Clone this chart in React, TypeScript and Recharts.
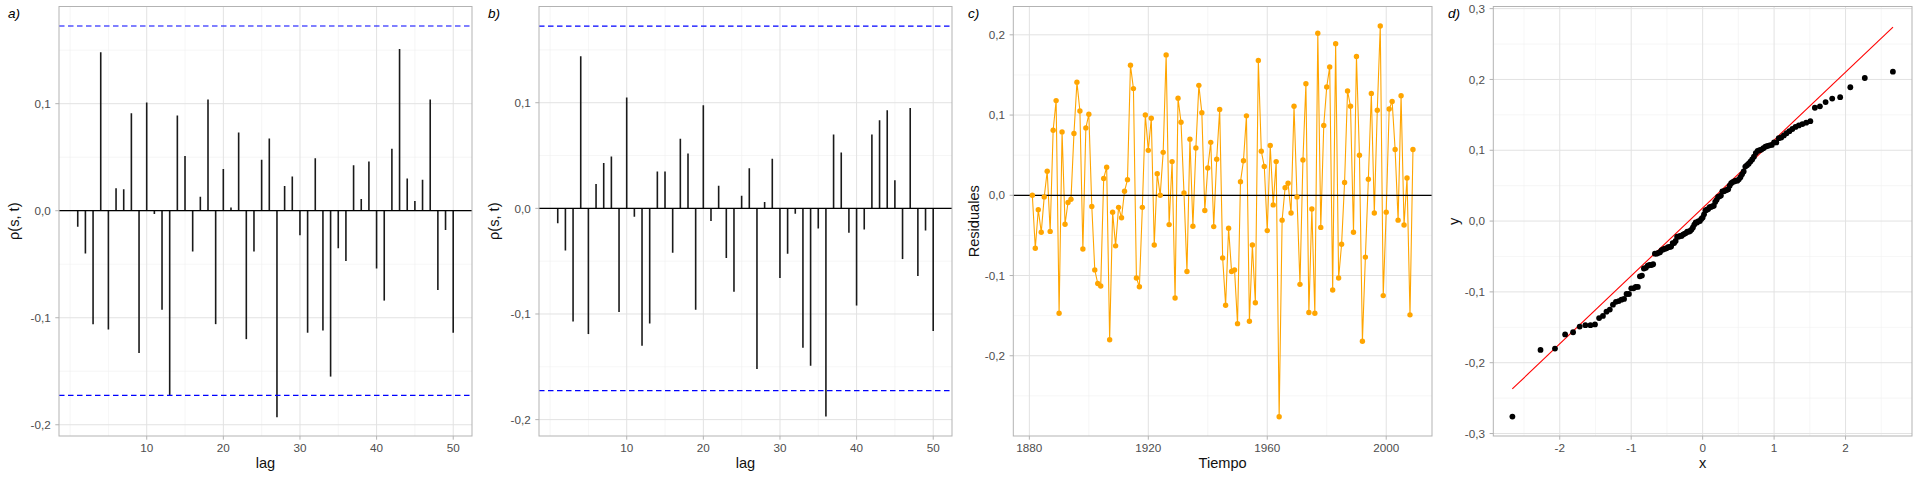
import React from "react";
import {
  ComposedChart,
  Bar,
  Line,
  Scatter,
  XAxis,
  YAxis,
  CartesianGrid,
  ReferenceLine,
} from "recharts";

// lags 1..50
const lags = Array.from({ length: 50 }, (_, i) => i + 1);

// a) autocorrelation of the residuals
const acfA = [
  -0.015, -0.04, -0.106, 0.148, -0.111, 0.021, 0.02, 0.091, -0.133, 0.101,
  -0.003, -0.0925, -0.173, 0.089, 0.051, -0.038, 0.013, 0.104, -0.106, 0.039,
  0.003, 0.073, -0.12, -0.038, 0.0475, 0.0675, -0.193, 0.023, 0.032, -0.023,
  -0.114, 0.049, -0.112, -0.155, -0.035, -0.047, 0.0425, 0.011, 0.046, -0.054,
  -0.084, 0.058, 0.151, 0.03, 0.009, 0.029, 0.104, -0.074, -0.018, -0.114,
];

// b) partial autocorrelation
const acfB = [
  -0.014, -0.04, -0.107, 0.144, -0.119, 0.023, 0.043, 0.049, -0.098, 0.105,
  -0.008, -0.13, -0.109, 0.035, 0.035, -0.042, 0.066, 0.052, -0.096, 0.0975,
  -0.012, 0.0215, -0.047, -0.079, 0.012, 0.038, -0.152, 0.006, 0.047, -0.066,
  -0.043, -0.005, -0.132, -0.149, -0.019, -0.197, 0.07, 0.053, -0.023, -0.092,
  -0.02, 0.07, 0.0835, 0.093, 0.0265, -0.048, 0.095, -0.064, -0.021, -0.116,
];

const confBand = 0.1726;

// c) residuals 1881..2009
const years = Array.from({ length: 129 }, (_, i) => 1881 + i);
const residuals = [
  0.0, -0.066, -0.018, -0.046, -0.002, 0.03, -0.045, 0.081, 0.118, -0.147,
  0.079, -0.036, -0.009, -0.005, 0.077, 0.141, 0.105, -0.067, 0.084, 0.101,
  -0.014, -0.093, -0.11, -0.113, 0.021, 0.035, -0.18, -0.021, -0.063, -0.015,
  -0.028, 0.005, 0.0195, 0.162, 0.133, -0.103, -0.114, -0.015, 0.1, 0.056,
  0.096, -0.062, 0.027, 0.0, 0.0535, 0.175, -0.0365, 0.042, -0.128, 0.121,
  0.091, 0.003, -0.095, 0.07, -0.0385, 0.059, 0.137, 0.103, -0.019, 0.034,
  0.066, -0.039, 0.045, 0.107, -0.078, -0.137, -0.041, -0.095, -0.093, -0.16,
  0.017, 0.043, 0.099, -0.157, -0.062, -0.134, 0.168, 0.055, 0.036, -0.044,
  0.062, -0.012, 0.042, -0.276, -0.031, 0.0095, 0.015, -0.022, 0.111, -0.002,
  -0.111, 0.044, 0.139, -0.146, -0.017, -0.147, 0.202, -0.04, 0.087, 0.135,
  0.16, -0.118, 0.189, -0.103, -0.061, 0.016, 0.13, 0.111, -0.046, 0.173,
  0.05, -0.182, -0.077, 0.02, 0.127, -0.022, 0.106, 0.211, -0.125, -0.021,
  0.1075, 0.117, 0.057, -0.031, 0.124, -0.037, 0.0215, -0.149, 0.057,
];

// d) reference line of the qq plot (read from the picture)
const qqLineX = [-2.664, 2.664];
const qqLineY = [-0.237, 0.274];

// ticks and grid
const lagTicks = [10, 20, 30, 40, 50];
const lagMinor = [0, 5, 15, 25, 35, 45];
const acfTicks = [-0.2, -0.1, 0, 0.1];
const acfMinor = [-0.15, -0.05, 0.05, 0.15];
const yearTicks = [1880, 1920, 1960, 2000];
const yearMinor = [1900, 1940, 1980];
const resTicks = [-0.2, -0.1, 0, 0.1, 0.2];
const resMinor = [-0.25, -0.15, -0.05, 0.05, 0.15];
const qxTicks = [-2, -1, 0, 1, 2];
const qxMinor = [-2.5, -1.5, -0.5, 0.5, 1.5, 2.5];
const qyTicks = [-0.3, -0.2, -0.1, 0, 0.1, 0.2, 0.3];
const qyMinor = [-0.25, -0.15, -0.05, 0.05, 0.15, 0.25];

// inverse normal cdf (Acklam)
function qnorm(p: number) {
  const a = [-39.69683028665376, 220.9460984245205, -275.9285104469687, 138.357751867269, -30.66479806614716, 2.506628277459239];
  const b = [-54.47609879822406, 161.5858368580409, -155.6989798598866, 66.80131188771972, -13.28068155288572];
  const c = [-0.007784894002430293, -0.3223964580411365, -2.400758277161838, -2.549671534231630, 4.374664141464968, 2.938163982698783];
  const d = [0.007784695709041462, 0.3224671290700398, 2.445134137142996, 3.754408661907416];
  const lo = 0.02425;
  if (p < lo) {
    const q = Math.sqrt(-2 * Math.log(p));
    return (((((c[0] * q + c[1]) * q + c[2]) * q + c[3]) * q + c[4]) * q + c[5]) / ((((d[0] * q + d[1]) * q + d[2]) * q + d[3]) * q + 1);
  }
  if (p <= 1 - lo) {
    const q = p - 0.5;
    const r = q * q;
    return ((((((a[0] * r + a[1]) * r + a[2]) * r + a[3]) * r + a[4]) * r + a[5]) * q) / (((((b[0] * r + b[1]) * r + b[2]) * r + b[3]) * r + b[4]) * r + 1);
  }
  const q = Math.sqrt(-2 * Math.log(1 - p));
  return -(((((c[0] * q + c[1]) * q + c[2]) * q + c[3]) * q + c[4]) * q + c[5]) / ((((d[0] * q + d[1]) * q + d[2]) * q + d[3]) * q + 1);
}

const acfDataA = lags.map((lag, i) => ({ lag, acf: acfA[i] }));
const acfDataB = lags.map((lag, i) => ({ lag, acf: acfB[i] }));
const residData = years.map((year, i) => ({ year, res: residuals[i] }));
const sortedRes = [...residuals].sort((p, q) => p - q);
const qqData = sortedRes.map((y, i) => ({ x: qnorm((i + 0.5) / sortedRes.length), y }));
const qqLineData = qqLineX.map((x, i) => ({ x, y: qqLineY[i] }));

const FONT = '"Liberation Sans", Arial, Helvetica, sans-serif';
const W = 480;
const H = 480;
const TOP = 6.5;
const RIGHT = 472;
const BOTTOM = 436;
const XAXIS_H = 20;

const comma = (v: number) => v.toFixed(1).replace(".", ",");
const tickStyle = { fill: "#4d4d4d", fontSize: 11.7, fontFamily: FONT };

const hGen = (vals: number[], dom: number[]) => (p: any) =>
  vals.map((v) => p.offset.top + ((dom[1] - v) / (dom[1] - dom[0])) * p.offset.height);
const vGen = (vals: number[], dom: number[]) => (p: any) =>
  vals.map((v) => p.offset.left + ((v - dom[0]) / (dom[1] - dom[0])) * p.offset.width);

function grids(xMinor: number[], xMajor: number[], xDom: number[], yMinor: number[], yMajor: number[], yDom: number[]) {
  return [
    <CartesianGrid
      key="minor"
      stroke="#f0f0f0"
      strokeWidth={0.6}
      horizontalCoordinatesGenerator={hGen(yMinor, yDom)}
      verticalCoordinatesGenerator={vGen(xMinor, xDom)}
    />,
    <CartesianGrid
      key="major"
      stroke="#e2e2e2"
      strokeWidth={1}
      horizontalCoordinatesGenerator={hGen(yMajor, yDom)}
      verticalCoordinatesGenerator={vGen(xMajor, xDom)}
    />,
  ];
}

function Frame({ left, tag, xTitle, yTitle, children }: any) {
  return (
    <div style={{ position: "relative", width: W, height: H }}>
      {children}
      <svg width={W} height={H} style={{ position: "absolute", left: 0, top: 0, pointerEvents: "none" }}>
        <rect x={left} y={TOP} width={RIGHT - left} height={BOTTOM - TOP} fill="none" stroke="#b3b3b3" strokeWidth={1} />
        <text x={8} y={17.5} fontSize={13.5} fontStyle="italic" fontFamily={FONT} fill="#000">
          {tag}
        </text>
        <text
          x={(left + RIGHT) / 2}
          y={468}
          fontSize={14.6}
          fontFamily={FONT}
          textAnchor="middle"
          fill="#111"
        >
          {xTitle}
        </text>
        <text
          transform={`translate(13.5, ${(TOP + BOTTOM) / 2}) rotate(-90)`}
          fontSize={14.6}
          fontFamily={FONT}
          textAnchor="middle"
          dominantBaseline="central"
          fill="#111"
        >
          {yTitle}
        </text>
      </svg>
    </div>
  );
}

const margin = () => ({ top: TOP, right: W - RIGHT, bottom: H - BOTTOM - XAXIS_H, left: 0 });

function AcfPanel({ data, tag, yDom }: { data: any[]; tag: string; yDom: number[] }) {
  const left = 59;
  const xDom = [-1.45, 52.45];
  return (
    <Frame left={left} tag={tag} xTitle="lag" yTitle="ρ(s, t)">
      <ComposedChart width={W} height={H} data={data} margin={margin()}>
        {grids(lagMinor, lagTicks, xDom, acfMinor, acfTicks, yDom)}
        <XAxis
          type="number"
          dataKey="lag"
          domain={xDom}
          allowDataOverflow
          ticks={lagTicks}
          height={XAXIS_H}
          axisLine={false}
          tickLine={{ stroke: "#b3b3b3" }}
          tickSize={3.7}
          tickMargin={3.6}
          tick={tickStyle}
        />
        <YAxis
          type="number"
          domain={yDom}
          allowDataOverflow
          ticks={acfTicks}
          width={left}
          axisLine={false}
          tickLine={{ stroke: "#b3b3b3" }}
          tickSize={3.7}
          tickMargin={4.6}
          tick={tickStyle}
          tickFormatter={comma}
        />
        <Bar dataKey="acf" fill="#1a1a1a" barSize={1.6} isAnimationActive={false} />
        <ReferenceLine y={0} stroke="#000" strokeWidth={1.3} />
        <ReferenceLine y={confBand} stroke="#0000ff" strokeWidth={1.2} strokeDasharray="5.5 3.5" />
        <ReferenceLine y={-confBand} stroke="#0000ff" strokeWidth={1.2} strokeDasharray="5.5 3.5" />
      </ComposedChart>
    </Frame>
  );
}

function ResidPanel() {
  const left = 53.3;
  const xDom = [1874.6, 2015.4];
  const yDom = [-0.3, 0.2353];
  return (
    <Frame left={left} tag="c)" xTitle="Tiempo" yTitle="Residuales">
      <ComposedChart width={W} height={H} data={residData} margin={margin()}>
        {grids(yearMinor, yearTicks, xDom, resMinor, resTicks, yDom)}
        <XAxis
          type="number"
          dataKey="year"
          domain={xDom}
          allowDataOverflow
          ticks={yearTicks}
          height={XAXIS_H}
          axisLine={false}
          tickLine={{ stroke: "#b3b3b3" }}
          tickSize={3.7}
          tickMargin={3.6}
          tick={tickStyle}
        />
        <YAxis
          type="number"
          domain={yDom}
          allowDataOverflow
          ticks={resTicks}
          width={left}
          axisLine={false}
          tickLine={{ stroke: "#b3b3b3" }}
          tickSize={3.7}
          tickMargin={4.6}
          tick={tickStyle}
          tickFormatter={comma}
        />
        <Line
          dataKey="res"
          stroke="#ffa500"
          strokeWidth={1.1}
          dot={{ r: 2.7, fill: "#ffa500", stroke: "none" }}
          isAnimationActive={false}
        />
        <ReferenceLine y={0} stroke="#000" strokeWidth={1.3} />
      </ComposedChart>
    </Frame>
  );
}

function QQPanel() {
  const left = 53.3;
  const xDom = [-2.93, 2.93];
  const yDom = [-0.3035, 0.303];
  return (
    <Frame left={left} tag="d)" xTitle="x" yTitle="y">
      <ComposedChart width={W} height={H} margin={margin()}>
        {grids(qxMinor, qxTicks, xDom, qyMinor, qyTicks, yDom)}
        <XAxis
          type="number"
          dataKey="x"
          domain={xDom}
          allowDataOverflow
          ticks={qxTicks}
          height={XAXIS_H}
          axisLine={false}
          tickLine={{ stroke: "#b3b3b3" }}
          tickSize={3.7}
          tickMargin={3.6}
          tick={tickStyle}
        />
        <YAxis
          type="number"
          domain={yDom}
          allowDataOverflow
          ticks={qyTicks}
          width={left}
          axisLine={false}
          tickLine={{ stroke: "#b3b3b3" }}
          tickSize={3.7}
          tickMargin={4.6}
          tick={tickStyle}
          tickFormatter={comma}
        />
        <Scatter
          data={qqData}
          dataKey="y"
          isAnimationActive={false}
          shape={(p: any) => <circle cx={p.cx} cy={p.cy} r={2.9} fill="#000" />}
        />
        <Line data={qqLineData} dataKey="y" stroke="#ff0000" strokeWidth={1.1} dot={false} isAnimationActive={false} />
      </ComposedChart>
    </Frame>
  );
}

export default function App() {
  return (
    <div
      style={{
        position: "absolute",
        left: 0,
        top: 0,
        width: 1920,
        height: 480,
        background: "#fff",
        display: "flex",
        fontFamily: FONT,
      }}
    >
      <AcfPanel data={acfDataA} tag="a)" yDom={[-0.2105, 0.1908]} />
      <AcfPanel data={acfDataB} tag="b)" yDom={[-0.2155, 0.1911]} />
      <ResidPanel />
      <QQPanel />
    </div>
  );
}
